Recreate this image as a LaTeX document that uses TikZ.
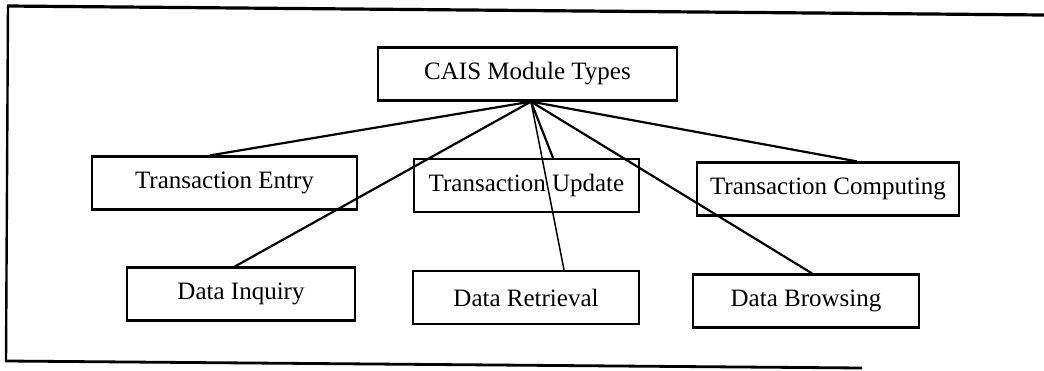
\documentclass[tikz,border=0pt]{standalone}
\usepackage{fontspec}
\setmainfont{Liberation Serif}
\usetikzlibrary{calc}
\begin{document}
\begin{tikzpicture}[x=1pt,y=-1pt,
  modbox/.style={draw, line width=2.2pt, inner sep=0pt,
    minimum height=53pt, font=\fontsize{25}{29}\selectfont},
  link/.style={line width=2.2pt},
  thinlink/.style={line width=1.5pt}]
\useasboundingbox (0,0) rectangle (1044,370);

% outer frame (open on the right)
\draw[line width=3.2pt] (1044,15) -- (7,6);
\draw[line width=2.4pt] (8,6) -- (6,362);
\draw[line width=2.8pt] (6,361) -- (862,368);

% module boxes
\node[modbox, minimum width=299pt] (top) at (527.5,74)   {CAIS Module Types};
\node[modbox, minimum width=265pt] (te)  at (224.5,183)  {Transaction Entry};
\node[modbox, minimum width=225pt] (tu)  at (526.5,185.5){Transaction Update};
\node[modbox, minimum width=262pt] (tc)  at (828,189)    {Transaction Computing};
\node[modbox, minimum width=228pt] (di)  at (241,294)    {Data Inquiry};
\node[modbox, minimum width=226pt] (dr)  at (526,297.5)  {Data Retrieval};
\node[modbox, minimum width=226pt] (db)  at (806,301)    {Data Browsing};

% common fan-out point under the root box
\coordinate (hub) at ($(top.south)+(3.5,0)$);

% connectors
\draw[link] (hub) -- ($(te.north)+(-14.5,0)$);
\draw[link] (hub) -- ($(di.north)+(-6,0)$);
\draw[link] (hub) -- ($(tu.north)+(26.5,0)$);
\draw[thinlink] (hub) -- ($(dr.north)+(38,0)$);
\draw[link] (hub) -- ($(db.north)+(6,0)$);
\draw[link] (hub) -- ($(tc.north)+(29,0)$);
\end{tikzpicture}
\end{document}
